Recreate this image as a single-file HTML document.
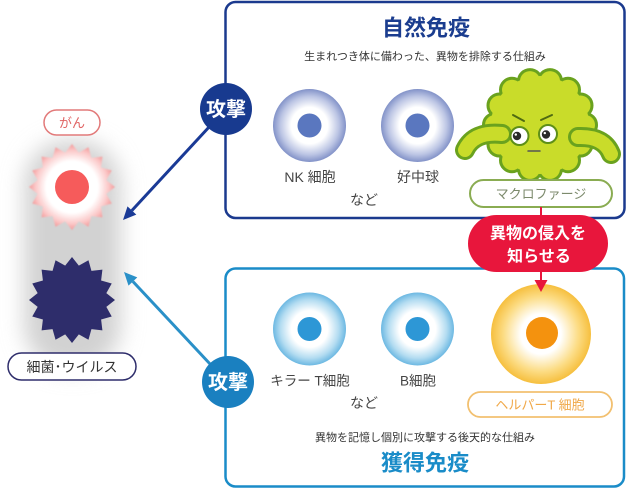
<!DOCTYPE html>
<html>
<head>
<meta charset="utf-8">
<style>
  html,body{margin:0;padding:0;background:#fff;}
  body{width:627px;height:489px;overflow:hidden;}
  svg{display:block;}
  text{font-family:"Liberation Sans","Noto Sans CJK JP",sans-serif;}
</style>
</head>
<body>
<svg width="627" height="489" viewBox="0 0 627 489" xmlns="http://www.w3.org/2000/svg">
  <defs>
    <filter id="blur" x="-50%" y="-50%" width="200%" height="200%">
      <feGaussianBlur stdDeviation="11"/>
    </filter>
    <filter id="soft" x="-20%" y="-20%" width="140%" height="140%">
      <feGaussianBlur stdDeviation="0.7"/>
    </filter>
    <radialGradient id="gCancer" cx="72" cy="187" r="43" gradientUnits="userSpaceOnUse">
      <stop offset="0" stop-color="#ffffff"/>
      <stop offset="0.6" stop-color="#ffffff"/>
      <stop offset="0.85" stop-color="#fbc8c8"/>
      <stop offset="1" stop-color="#f39a9a"/>
    </radialGradient>
    <radialGradient id="gNavy" cx="0.5" cy="0.5" r="0.5">
      <stop offset="0" stop-color="#ffffff"/>
      <stop offset="0.5" stop-color="#ffffff"/>
      <stop offset="0.8" stop-color="#bcc5e4"/>
      <stop offset="1" stop-color="#8292c8"/>
    </radialGradient>
    <radialGradient id="gBlue" cx="0.5" cy="0.5" r="0.5">
      <stop offset="0" stop-color="#ffffff"/>
      <stop offset="0.5" stop-color="#ffffff"/>
      <stop offset="0.8" stop-color="#b3dcf1"/>
      <stop offset="1" stop-color="#6cb8e2"/>
    </radialGradient>
    <radialGradient id="gYellow" cx="0.5" cy="0.5" r="0.5">
      <stop offset="0" stop-color="#ffffff"/>
      <stop offset="0.4" stop-color="#ffffff"/>
      <stop offset="0.75" stop-color="#fcdc84"/>
      <stop offset="1" stop-color="#f6bf3e"/>
    </radialGradient>
  </defs>

  <!-- gray shadow -->
  <rect x="24" y="140" width="97" height="230" rx="45" fill="#d2d2d2" filter="url(#blur)"/>

  <!-- cancer star -->
  <g filter="url(#soft)">
    <polygon fill="url(#gCancer)" points="72,144 78.83,152.67 88.46,147.27 91.45,157.9 102.41,156.59 101.1,167.55 111.73,170.54 106.33,180.17 115,187 106.33,193.83 111.73,203.46 101.1,206.45 102.41,217.41 91.45,216.1 88.46,226.73 78.83,221.33 72,230 65.17,221.33 55.54,226.73 52.55,216.1 41.59,217.41 42.9,206.45 32.27,203.46 37.67,193.83 29,187 37.67,180.17 32.27,170.54 42.9,167.55 41.59,156.59 52.55,157.9 55.54,147.27 65.17,152.67"/>
  </g>
  <circle cx="72" cy="187" r="17" fill="#f65b5b"/>

  <!-- bacteria star -->
  <polygon fill="#2e2d6b" points="72,257 78.83,265.67 88.46,260.27 91.45,270.9 102.41,269.59 101.1,280.55 111.73,283.54 106.33,293.17 115,300 106.33,306.83 111.73,316.46 101.1,319.45 102.41,330.41 91.45,329.1 88.46,339.73 78.83,334.33 72,343 65.17,334.33 55.54,339.73 52.55,329.1 41.59,330.41 42.9,319.45 32.27,316.46 37.67,306.83 29,300 37.67,293.17 32.27,283.54 42.9,280.55 41.59,269.59 52.55,270.9 55.54,260.27 65.17,265.67"/>

  <!-- left labels -->
  <rect x="44" y="110" width="56" height="25" rx="12.5" fill="#fff" stroke="#e27a7a" stroke-width="1.5"/>
  <text x="72" y="123" font-size="13" fill="#e06464" text-anchor="middle" dominant-baseline="central">がん</text>
  <rect x="8" y="353" width="128" height="27" rx="13.5" fill="#fff" stroke="#2e2d6b" stroke-width="1.5"/>
  <text x="72" y="367" font-size="14" fill="#333" text-anchor="middle" dominant-baseline="central">細菌･ウイルス</text>

  <!-- top box -->
  <rect x="225.5" y="2" width="399" height="216" rx="10" fill="#fff" stroke="#1b3a8e" stroke-width="2.5"/>
  <text x="426" y="28" font-size="22" font-weight="bold" fill="#1b3d8f" text-anchor="middle" dominant-baseline="central">自然免疫</text>
  <text x="425" y="57" font-size="11" fill="#333" text-anchor="middle" dominant-baseline="central">生まれつき体に備わった、異物を排除する仕組み</text>

  <circle cx="309.5" cy="125.5" r="36.5" fill="url(#gNavy)"/>
  <circle cx="309.5" cy="125.5" r="12" fill="#5a77bf"/>
  <circle cx="417.5" cy="125.5" r="36.5" fill="url(#gNavy)"/>
  <circle cx="417.5" cy="125.5" r="12" fill="#5a77bf"/>
  <text x="310" y="177" font-size="14" fill="#444" text-anchor="middle" dominant-baseline="central">NK 細胞</text>
  <text x="418" y="177" font-size="14" fill="#444" text-anchor="middle" dominant-baseline="central">好中球</text>
  <text x="364" y="200" font-size="14" fill="#444" text-anchor="middle" dominant-baseline="central">など</text>

  <!-- macrophage -->
  <g transform="translate(540,125)">
    <g fill="#6aa21e" stroke="#6aa21e" stroke-width="6">
      <circle r="49"/>
      <circle cx="45" cy="0" r="10"/><circle cx="40.5" cy="19.5" r="10"/><circle cx="28" cy="35.2" r="10"/>
      <circle cx="10" cy="43.9" r="10"/><circle cx="-10" cy="43.9" r="10"/><circle cx="-28" cy="35.2" r="10"/>
      <circle cx="-40.5" cy="19.5" r="10"/><circle cx="-45" cy="0" r="10"/><circle cx="-40.5" cy="-19.5" r="10"/>
      <circle cx="-28" cy="-35.2" r="10"/><circle cx="-10" cy="-43.9" r="10"/><circle cx="10" cy="-43.9" r="10"/>
      <circle cx="28" cy="-35.2" r="10"/><circle cx="40.5" cy="-19.5" r="10"/>
    </g>
    <g fill="#c9dc2a">
      <circle r="49"/>
      <circle cx="45" cy="0" r="10"/><circle cx="40.5" cy="19.5" r="10"/><circle cx="28" cy="35.2" r="10"/>
      <circle cx="10" cy="43.9" r="10"/><circle cx="-10" cy="43.9" r="10"/><circle cx="-28" cy="35.2" r="10"/>
      <circle cx="-40.5" cy="19.5" r="10"/><circle cx="-45" cy="0" r="10"/><circle cx="-40.5" cy="-19.5" r="10"/>
      <circle cx="-28" cy="-35.2" r="10"/><circle cx="-10" cy="-43.9" r="10"/><circle cx="10" cy="-43.9" r="10"/>
      <circle cx="28" cy="-35.2" r="10"/><circle cx="40.5" cy="-19.5" r="10"/>
    </g>
  </g>
  <!-- arms -->
  <path d="M502 134 Q474 131 465 150" fill="none" stroke="#6aa21e" stroke-width="20" stroke-linecap="round"/>
  <path d="M502 134 Q474 131 465 150" fill="none" stroke="#c9dc2a" stroke-width="14" stroke-linecap="round"/>
  <path d="M578 137 Q604 136 611 154" fill="none" stroke="#6aa21e" stroke-width="20" stroke-linecap="round"/>
  <path d="M578 137 Q604 136 611 154" fill="none" stroke="#c9dc2a" stroke-width="14" stroke-linecap="round"/>
  <!-- face -->
  <circle cx="519.5" cy="136" r="9" fill="#fff" stroke="#5e8f18" stroke-width="2"/>
  <circle cx="548" cy="134" r="9" fill="#fff" stroke="#5e8f18" stroke-width="2"/>
  <circle cx="517" cy="136" r="4.2" fill="#2a2a2a"/>
  <circle cx="546" cy="134.5" r="4.2" fill="#2a2a2a"/>
  <circle cx="515.8" cy="134.6" r="1.2" fill="#fff"/>
  <circle cx="544.8" cy="133.1" r="1.2" fill="#fff"/>
  <path d="M513 115 L524 121" stroke="#4f6a12" stroke-width="2" stroke-linecap="round"/>
  <path d="M541 120 L552 115" stroke="#4f6a12" stroke-width="2" stroke-linecap="round"/>
  <path d="M528 151 L540 151" stroke="#555" stroke-width="1.5" stroke-linecap="round"/>

  <!-- macrophage label -->
  <rect x="470" y="180" width="142" height="27" rx="13.5" fill="#fff" stroke="#8aac52" stroke-width="2"/>
  <text x="541" y="194" font-size="13" fill="#7c8a6c" text-anchor="middle" dominant-baseline="central">マクロファージ</text>

  <!-- bottom box -->
  <rect x="225.5" y="268.5" width="398.5" height="218" rx="10" fill="#fff" stroke="#1a8cc8" stroke-width="2.5"/>

  <!-- red connector -->
  <line x1="541" y1="207" x2="541" y2="217" stroke="#e8163c" stroke-width="2"/>
  <line x1="541" y1="270" x2="541" y2="282" stroke="#e8163c" stroke-width="2"/>

  <!-- helper T -->
  <circle cx="541" cy="334" r="50" fill="url(#gYellow)"/>
  <circle cx="542" cy="333" r="16" fill="#f4920e"/>
  <polygon points="534.5,280 547.5,280 541,292" fill="#e8163c"/>

  <rect x="468" y="215" width="140" height="57" rx="28.5" fill="#e8163c"/>
  <text x="538" y="234" font-size="16" font-weight="bold" fill="#fff" text-anchor="middle" dominant-baseline="central">異物の侵入を</text>
  <text x="539" y="257" font-size="16" font-weight="bold" fill="#fff" text-anchor="middle" dominant-baseline="central">知らせる</text>

  <rect x="468" y="392" width="144" height="25" rx="12.5" fill="#fff" stroke="#f2c070" stroke-width="1.8"/>
  <text x="540" y="405" font-size="13" fill="#f0a848" text-anchor="middle" dominant-baseline="central">ヘルパーT 細胞</text>

  <circle cx="309.5" cy="329" r="36.5" fill="url(#gBlue)"/>
  <circle cx="309.5" cy="329" r="12" fill="#2d97d6"/>
  <circle cx="417.5" cy="329" r="36.5" fill="url(#gBlue)"/>
  <circle cx="417.5" cy="329" r="12" fill="#2d97d6"/>
  <text x="310" y="381" font-size="13.5" fill="#444" text-anchor="middle" dominant-baseline="central">キラー T細胞</text>
  <text x="418" y="381" font-size="13.5" fill="#444" text-anchor="middle" dominant-baseline="central">B細胞</text>
  <text x="364" y="403" font-size="14" fill="#444" text-anchor="middle" dominant-baseline="central">など</text>

  <text x="425" y="438" font-size="11" fill="#333" text-anchor="middle" dominant-baseline="central">異物を記憶し個別に攻撃する後天的な仕組み</text>
  <text x="425" y="463" font-size="22" font-weight="bold" fill="#1a8cc8" text-anchor="middle" dominant-baseline="central">獲得免疫</text>

  <!-- arrows -->
  <line x1="210" y1="126" x2="131.9" y2="210.5" stroke="#1a3a96" stroke-width="3"/>
  <polygon points="123,220 136.3,214.6 127.5,206.4" fill="#1a3a96"/>
  <line x1="211" y1="365" x2="132.9" y2="281.5" stroke="#2a90c8" stroke-width="3"/>
  <polygon points="124,272 137.3,277.4 128.5,285.6" fill="#2a90c8"/>

  <!-- attack circles -->
  <circle cx="226" cy="109" r="26" fill="#183a8f"/>
  <text x="226" y="110" font-size="20" font-weight="bold" fill="#fff" text-anchor="middle" dominant-baseline="central">攻撃</text>
  <circle cx="228" cy="382" r="26" fill="#1a80c0"/>
  <text x="228" y="383" font-size="20" font-weight="bold" fill="#fff" text-anchor="middle" dominant-baseline="central">攻撃</text>
</svg>
</body>
</html>
